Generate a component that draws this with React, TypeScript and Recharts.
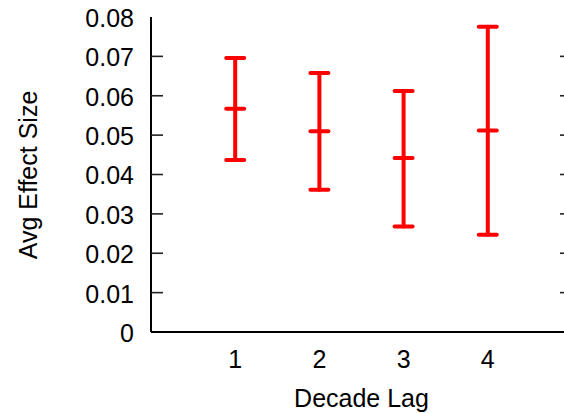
import React from 'react';
import { ComposedChart, Scatter, ErrorBar, XAxis, YAxis } from 'recharts';

// Avg effect size per decade lag, with lower/upper interval bounds
const lags = [1, 2, 3, 4];
const means = [0.0567, 0.051, 0.0442, 0.0512];
const lower = [0.0437, 0.0361, 0.0268, 0.0247];
const upper = [0.0696, 0.0658, 0.0612, 0.0775];
const yTicks = [0, 0.01, 0.02, 0.03, 0.04, 0.05, 0.06, 0.07, 0.08];
const xTicks = [1, 2, 3, 4];
const X_MIN = 0;
const X_MAX = 5;

const data = lags.map((lag, i) => ({
  lag,
  mean: means[i],
  err: [means[i] - lower[i], upper[i] - means[i]],
}));

// inward tick marks on the left and right frame edges
const innerTicks = yTicks.slice(1, -1);
const leftTickData = innerTicks.map((v) => ({ lag: X_MIN, mean: v }));
const rightTickData = innerTicks.map((v) => ({ lag: X_MAX, mean: v }));

const FONT = '"Liberation Sans", Arial, sans-serif';
const RED = '#ff0000';

const MeanMark = (props: any) => {
  const { cx, cy } = props;
  return (
    <line x1={cx - 9} x2={cx + 9} y1={cy} y2={cy} stroke={RED} strokeWidth={4} strokeLinecap="round" />
  );
};

const LeftTickMark = (props: any) => {
  const { cx, cy } = props;
  return <line x1={cx} x2={cx + 12} y1={cy} y2={cy} stroke="#222" strokeWidth={1.6} />;
};

const RightTickMark = (props: any) => {
  const { cx, cy } = props;
  return <line x1={cx - 12} x2={cx} y1={cy} y2={cy} stroke="#222" strokeWidth={1.6} />;
};

const App = () => (
  <div style={{ position: 'absolute', left: 0, top: 0, width: 564, height: 413, overflow: 'hidden', background: '#fff' }}>
    <ComposedChart width={580} height={413} data={data} margin={{ top: 17, right: 0, bottom: 0, left: 0 }}>
      <XAxis
        dataKey="lag"
        type="number"
        domain={[X_MIN, X_MAX]}
        ticks={xTicks}
        height={81}
        tickLine={false}
        tickSize={0}
        tickMargin={18}
        axisLine={{ stroke: '#000', strokeWidth: 2 }}
        tick={{ fontSize: 25, fontFamily: FONT, fill: '#000' }}
        label={{ value: 'Decade Lag', position: 'insideBottom', offset: 6, fontSize: 25, fontFamily: FONT, fill: '#000' }}
      />
      <XAxis
        xAxisId="top"
        orientation="top"
        type="number"
        domain={[X_MIN, X_MAX]}
        height={0}
        tick={false}
        tickLine={false}
        axisLine={{ stroke: '#000', strokeWidth: 2 }}
      />
      <YAxis
        type="number"
        domain={[0, 0.08]}
        ticks={yTicks}
        width={151}
        tickLine={false}
        tickSize={0}
        tickMargin={17}
        axisLine={{ stroke: '#000', strokeWidth: 2 }}
        tick={{ fontSize: 25, fontFamily: FONT, fill: '#000', dy: 1 }}
        label={{
          content: () => (
            <text
              x={28}
              y={175}
              transform="rotate(-90, 28, 175)"
              textAnchor="middle"
              dominantBaseline="central"
              fontSize={25}
              fontFamily={FONT}
              fill="#000"
            >
              Avg Effect Size
            </text>
          ),
        }}
      />
      <YAxis
        yAxisId="right"
        orientation="right"
        type="number"
        domain={[0, 0.08]}
        width={8}
        tick={false}
        tickLine={false}
        axisLine={{ stroke: '#000', strokeWidth: 2 }}
      />
      <Scatter data={leftTickData} dataKey="mean" shape={<LeftTickMark />} isAnimationActive={false} />
      <Scatter data={rightTickData} dataKey="mean" shape={<RightTickMark />} isAnimationActive={false} />
      <Scatter dataKey="mean" shape={<MeanMark />} isAnimationActive={false}>
        <ErrorBar
          dataKey="err"
          direction="y"
          width={9}
          stroke={RED}
          strokeWidth={4}
          strokeLinecap="round"
          isAnimationActive={false}
        />
      </Scatter>
    </ComposedChart>
  </div>
);

export default App;
